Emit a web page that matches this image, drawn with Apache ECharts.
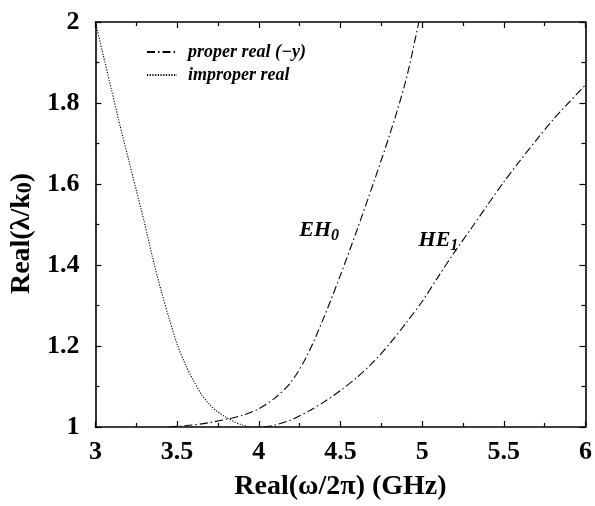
<!DOCTYPE html>
<html><head><meta charset="utf-8">
<script src="https://cdn.jsdelivr.net/npm/echarts@6/dist/echarts.min.js"></script>
<style>html,body{margin:0;padding:0;background:#fff}#c{width:595px;height:506px}</style>
</head><body><div id="c"></div>
<script>
// Data (x: GHz, y: Real(λ/k0))
const improperX = [3.0,3.05,3.1,3.15,3.2,3.25,3.3,3.35,3.4,3.45,3.5,3.55,3.6,3.65,3.7,3.75,3.8,3.85,3.9,3.94];
const improperY = [2.0,1.915,1.83,1.745,1.665,1.585,1.505,1.418,1.34,1.27,1.205,1.155,1.115,1.08,1.055,1.037,1.024,1.013,1.005,1.0];
const eh0X = [3.45,3.6,3.7,3.8,3.9,4.0,4.1,4.2,4.3,4.4,4.5,4.6,4.7,4.8,4.9,4.98];
const eh0Y = [1.0,1.005,1.011,1.019,1.029,1.045,1.072,1.112,1.18,1.272,1.375,1.485,1.6,1.72,1.855,2.0];
const he1X = [4.03,4.1,4.2,4.3,4.4,4.5,4.6,4.7,4.8,4.9,5.0,5.1,5.2,5.3,5.4,5.5,5.6,5.7,5.8,5.9,6.0];
const he1Y = [1.0,1.005,1.018,1.038,1.062,1.09,1.122,1.16,1.205,1.256,1.31,1.372,1.433,1.49,1.548,1.605,1.658,1.709,1.758,1.802,1.845];
const xTicks = [3,3.5,4,4.5,5,5.5,6];
const yTicks = [1,1.2,1.4,1.6,1.8,2];
const legendNames = ['proper real (\u2212y)','improper real'];
const curveLabels = [{text:'EH', sub:'0', x:4.37, y:1.485},{text:'HE', sub:'1', x:5.1, y:1.46}];

const zip = (xs, ys) => xs.map((x,i)=>[x,ys[i]]);
const serif = 'Liberation Serif';
const dashDot = [8,3,1.5,3];

const chart = echarts.init(document.getElementById('c'));
const axisCommon = {
  type:'value',
  axisLine:{show:true,lineStyle:{color:'#000',width:1.6}},
  axisTick:{show:true,inside:true,length:6,lineStyle:{color:'#000',width:1.2}},
  minorTick:{show:true,splitNumber:2,length:4,lineStyle:{color:'#000',width:1.2}},
  splitLine:{show:false}
};
const labelRich = {
  t:{fontFamily:serif,fontWeight:'bold',fontStyle:'italic',fontSize:22,color:'#000'},
  s:{fontFamily:serif,fontWeight:'bold',fontStyle:'italic',fontSize:16,color:'#000',padding:[11,0,0,0]}
};
chart.setOption({
  animation:false,
  backgroundColor:'#fff',
  grid:{left:92.5,right:8,top:22,bottom:71},
  legend:{
    left:141, top:38, orient:'vertical', itemGap:5, itemWidth:30, itemHeight:12,
    data:legendNames,
    itemStyle:{opacity:0},
    textStyle:{fontFamily:serif,fontWeight:'bold',fontStyle:'italic',fontSize:18,color:'#000',padding:[0,0,0,6]}
  },
  xAxis:[
    Object.assign({}, axisCommon, {
      min:3,max:6,interval:0.5,
      axisLabel:{margin:12,fontFamily:serif,fontWeight:'bold',fontSize:26,color:'#000',
        formatter:v=>xTicks.includes(+v.toFixed(2))?String(+v.toFixed(2)):''},
      name:'Real(\u03c9/2\u03c0) (GHz)', nameLocation:'middle', nameGap:46,
      nameTextStyle:{fontFamily:serif,fontWeight:'bold',fontSize:28,color:'#000'}
    }),
    Object.assign({}, axisCommon, {
      position:'top', min:3,max:6,interval:0.5, axisLabel:{show:false}
    })
  ],
  yAxis:[
    Object.assign({}, axisCommon, {
      min:1,max:2,interval:0.2,
      axisLabel:{margin:16,padding:[0,0,0,0],fontFamily:serif,fontWeight:'bold',fontSize:26,color:'#000',
        formatter:v=>{const r=+v.toFixed(2);return yTicks.includes(r)?String(r):'';}},
      name:'{a|Real(\u03bb/k}{s|0}{a|)}', nameLocation:'middle', nameGap:56, nameRotate:90,
      nameTextStyle:{padding:[0,18,0,0],rich:{
        a:{fontFamily:serif,fontWeight:'bold',fontSize:28,color:'#000'},
        s:{fontFamily:serif,fontWeight:'bold',fontSize:22,color:'#000',padding:[6,0,0,0]}
      }}
    }),
    Object.assign({}, axisCommon, {
      position:'right', min:1,max:2,interval:0.2, axisLabel:{show:false}
    })
  ],
  series:[
    {name:legendNames[0],type:'line',data:zip(eh0X,eh0Y),smooth:0.3,showSymbol:false,symbol:'none',
     lineStyle:{color:'#000',width:1.1,type:dashDot},itemStyle:{color:'#000'},
     markPoint:{symbol:'circle',symbolSize:0,data:[{coord:[curveLabels[0].x,curveLabels[0].y]}],
       label:{show:true,formatter:'{t|'+curveLabels[0].text+'}{s|'+curveLabels[0].sub+'}',rich:labelRich}}},
    {name:legendNames[0],type:'line',data:zip(he1X,he1Y),smooth:0.3,showSymbol:false,symbol:'none',
     lineStyle:{color:'#000',width:1.1,type:dashDot},itemStyle:{color:'#000'},
     markPoint:{symbol:'circle',symbolSize:0,data:[{coord:[curveLabels[1].x,curveLabels[1].y]}],
       label:{show:true,formatter:'{t|'+curveLabels[1].text+'}{s|'+curveLabels[1].sub+'}',rich:labelRich}}},
    {name:legendNames[1],type:'line',data:zip(improperX,improperY),smooth:0.3,showSymbol:false,symbol:'none',
     lineStyle:{color:'#000',width:1.1,type:[1.2,1.5]},itemStyle:{color:'#000'}}
  ]
});
</script></body></html>
